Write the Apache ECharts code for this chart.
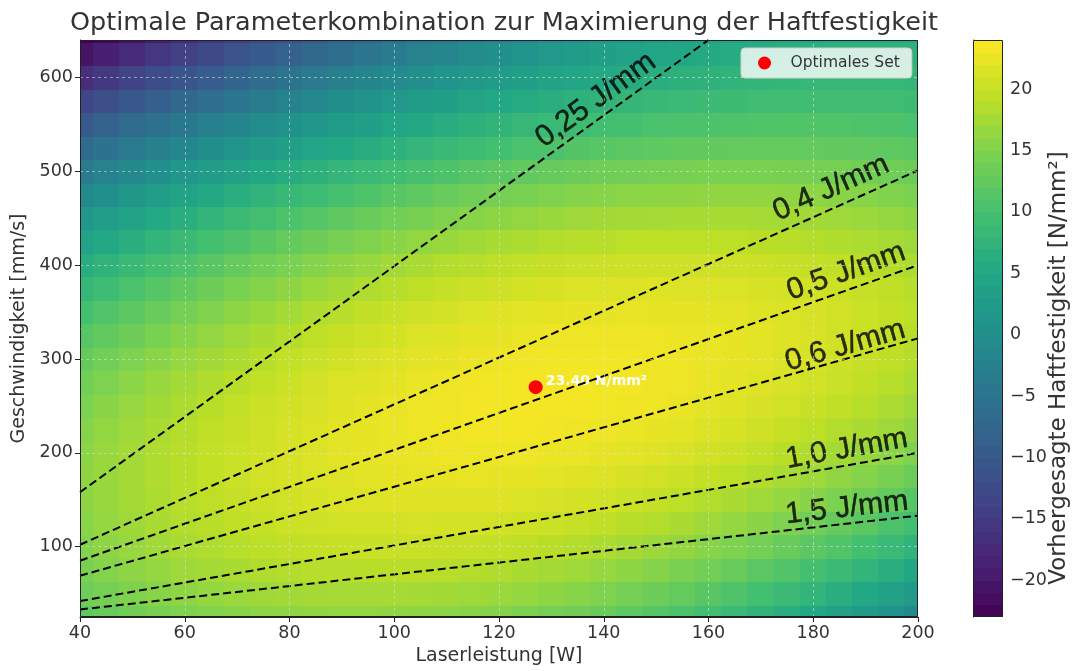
<!DOCTYPE html>
<html><head><meta charset="utf-8">
<script src="https://cdn.jsdelivr.net/npm/echarts@6/dist/echarts.min.js"></script>
<style>html,body{margin:0;padding:0;background:#fff}#c{width:1075px;height:671px}</style>
</head><body><div id="c"></div>
<script>
// ---------------- data ----------------
const powers = [40,45,50,55,60,65,70,75,80,85,90,95,100,105,110,115,120,125,130,135,140,145,150,155,160,165,170,175,180,185,190,195,200];
const speeds = [25,50,75,100,125,150,175,200,225,250,275,300,325,350,375,400,425,450,475,500,525,550,575,600,625,650];
const strength = [
 [12.3,13.0,13.7,14.3,14.8,15.2,15.6,15.9,16.1,16.2,16.3,16.3,16.2,16.1,15.8,15.5,15.2,14.7,14.2,13.6,13.0,12.2,11.4,10.5,9.6,8.6,7.5,6.3,5.1,3.7,2.4,0.9,-0.6],
 [13.5,14.2,14.9,15.5,16.0,16.5,16.9,17.2,17.4,17.6,17.7,17.7,17.7,17.6,17.4,17.2,16.9,16.5,16.0,15.5,14.9,14.2,13.5,12.7,11.8,10.9,9.8,8.8,7.6,6.4,5.1,3.7,2.3],
 [14.4,15.2,15.9,16.5,17.1,17.5,18.0,18.3,18.6,18.8,18.9,19.0,19.0,19.0,18.8,18.6,18.4,18.0,17.6,17.2,16.6,16.0,15.4,14.6,13.8,13.0,12.0,11.0,9.9,8.8,7.6,6.3,4.9],
 [15.2,15.9,16.6,17.3,17.9,18.4,18.8,19.2,19.5,19.8,20.0,20.1,20.1,20.1,20.0,19.9,19.7,19.4,19.1,18.7,18.2,17.6,17.0,16.4,15.6,14.8,14.0,13.0,12.0,11.0,9.8,8.6,7.4],
 [15.7,16.5,17.2,17.9,18.5,19.0,19.5,19.9,20.3,20.6,20.8,20.9,21.0,21.1,21.0,20.9,20.8,20.6,20.3,19.9,19.5,19.0,18.5,17.9,17.2,16.5,15.7,14.8,13.9,12.9,11.9,10.8,9.6],
 [15.9,16.7,17.5,18.2,18.9,19.4,19.9,20.4,20.8,21.1,21.4,21.6,21.7,21.8,21.8,21.8,21.7,21.5,21.3,21.0,20.7,20.2,19.8,19.2,18.6,18.0,17.2,16.5,15.6,14.7,13.7,12.7,11.6],
 [16.0,16.8,17.6,18.3,19.0,19.6,20.2,20.7,21.1,21.5,21.8,22.1,22.2,22.4,22.4,22.5,22.4,22.3,22.1,21.9,21.6,21.2,20.8,20.3,19.8,19.2,18.6,17.8,17.1,16.2,15.3,14.4,13.3],
 [15.8,16.7,17.5,18.3,19.0,19.6,20.2,20.8,21.2,21.6,22.0,22.3,22.5,22.7,22.8,22.9,22.9,22.8,22.7,22.6,22.3,22.0,21.7,21.3,20.8,20.3,19.7,19.0,18.3,17.5,16.7,15.8,14.9],
 [15.3,16.3,17.1,17.9,18.7,19.4,20.0,20.6,21.1,21.6,22.0,22.4,22.6,22.9,23.0,23.2,23.2,23.2,23.1,23.0,22.8,22.6,22.3,22.0,21.6,21.1,20.6,20.0,19.3,18.6,17.9,17.1,16.2],
 [14.7,15.7,16.6,17.4,18.2,19.0,19.6,20.3,20.8,21.3,21.8,22.2,22.5,22.8,23.0,23.2,23.3,23.4,23.4,23.3,23.2,23.0,22.8,22.5,22.1,21.7,21.2,20.7,20.1,19.5,18.8,18.1,17.2],
 [13.8,14.8,15.8,16.7,17.5,18.3,19.0,19.7,20.3,20.9,21.4,21.8,22.2,22.6,22.8,23.1,23.2,23.3,23.4,23.4,23.3,23.2,23.0,22.8,22.5,22.1,21.7,21.3,20.7,20.2,19.5,18.8,18.1],
 [12.7,13.8,14.8,15.7,16.6,17.4,18.2,18.9,19.6,20.2,20.8,21.3,21.7,22.1,22.4,22.7,22.9,23.1,23.2,23.2,23.2,23.2,23.0,22.9,22.6,22.3,22.0,21.6,21.1,20.6,20.0,19.4,18.7],
 [11.4,12.5,13.5,14.5,15.5,16.4,17.2,18.0,18.7,19.4,20.0,20.5,21.0,21.4,21.8,22.2,22.4,22.6,22.8,22.9,22.9,22.9,22.9,22.7,22.6,22.3,22.0,21.7,21.3,20.8,20.3,19.7,19.1],
 [9.8,11.0,12.1,13.1,14.1,15.1,15.9,16.8,17.5,18.3,18.9,19.5,20.1,20.6,21.0,21.4,21.7,22.0,22.2,22.3,22.4,22.5,22.4,22.4,22.2,22.0,21.8,21.5,21.2,20.7,20.3,19.8,19.2],
 [8.0,9.2,10.4,11.5,12.5,13.5,14.5,15.3,16.1,16.9,17.6,18.3,18.8,19.4,19.9,20.3,20.6,21.0,21.2,21.4,21.6,21.6,21.7,21.6,21.6,21.4,21.2,21.0,20.7,20.3,19.9,19.4,18.9],
 [6.1,7.3,8.5,9.7,10.7,11.8,12.7,13.7,14.5,15.3,16.1,16.7,17.4,17.9,18.5,18.9,19.3,19.7,20.0,20.2,20.4,20.5,20.6,20.6,20.6,20.5,20.3,20.1,19.8,19.5,19.1,18.7,18.2],
 [3.9,5.2,6.4,7.6,8.7,9.8,10.8,11.8,12.7,13.5,14.3,15.0,15.7,16.3,16.8,17.3,17.8,18.2,18.5,18.8,19.0,19.2,19.3,19.3,19.3,19.3,19.1,19.0,18.7,18.4,18.1,17.7,17.2],
 [1.6,2.9,4.2,5.4,6.5,7.6,8.7,9.7,10.6,11.5,12.3,13.0,13.8,14.4,15.0,15.5,16.0,16.4,16.8,17.1,17.4,17.6,17.7,17.8,17.8,17.8,17.7,17.6,17.4,17.2,16.9,16.5,16.1],
 [-1.0,0.4,1.7,2.9,4.1,5.3,6.3,7.4,8.3,9.2,10.1,10.9,11.7,12.3,13.0,13.6,14.1,14.5,14.9,15.3,15.6,15.8,16.0,16.1,16.2,16.2,16.2,16.1,15.9,15.7,15.5,15.1,14.7],
 [-3.8,-2.4,-1.0,0.3,1.5,2.7,3.8,4.9,5.9,6.9,7.8,8.6,9.4,10.1,10.8,11.4,12.0,12.5,12.9,13.3,13.7,13.9,14.2,14.3,14.5,14.5,14.5,14.4,14.3,14.2,13.9,13.7,13.3],
 [-6.7,-5.3,-3.9,-2.5,-1.3,0.0,1.1,2.3,3.3,4.3,5.3,6.2,7.0,7.8,8.5,9.2,9.8,10.3,10.8,11.3,11.6,12.0,12.2,12.5,12.6,12.7,12.8,12.8,12.7,12.6,12.4,12.2,11.9],
 [-9.9,-8.4,-6.9,-5.5,-4.2,-2.9,-1.7,-0.5,0.6,1.7,2.7,3.6,4.5,5.3,6.1,6.8,7.5,8.1,8.6,9.1,9.6,9.9,10.3,10.5,10.8,10.9,11.0,11.1,11.0,11.0,10.9,10.7,10.4],
 [-13.3,-11.7,-10.2,-8.7,-7.3,-6.0,-4.7,-3.4,-2.3,-1.1,-0.1,0.9,1.9,2.8,3.6,4.4,5.1,5.8,6.4,7.0,7.5,7.9,8.3,8.6,8.9,9.1,9.3,9.4,9.5,9.5,9.4,9.3,9.1],
 [-16.8,-15.2,-13.6,-12.0,-10.6,-9.2,-7.8,-6.5,-5.2,-4.0,-2.9,-1.8,-0.8,0.2,1.1,2.0,2.8,3.5,4.2,4.8,5.4,5.9,6.4,6.8,7.1,7.4,7.7,7.9,8.0,8.1,8.1,8.0,7.9],
 [-20.6,-18.8,-17.2,-15.5,-14.0,-12.5,-11.0,-9.6,-8.3,-7.0,-5.8,-4.6,-3.5,-2.4,-1.4,-0.5,0.4,1.2,2.0,2.7,3.4,4.0,4.6,5.0,5.5,5.9,6.2,6.5,6.7,6.8,6.9,7.0,7.0],
 [-24.5,-22.7,-21.0,-19.3,-17.6,-16.0,-14.5,-13.0,-11.6,-10.2,-8.9,-7.7,-6.5,-5.3,-4.3,-3.2,-2.3,-1.4,-0.5,0.3,1.1,1.7,2.4,3.0,3.5,3.9,4.3,4.7,5.0,5.2,5.4,5.5,5.6]
];
// constant line-energy lines (start and end points)
const energyNames = ['0,25 J/mm','0,4 J/mm','0,5 J/mm','0,6 J/mm','1,0 J/mm','1,5 J/mm'];
const energyStart = [[40,158],[40,102],[40,85],[40,69],[40,42],[40,33]];
const energyEnd   = [[160,640],[200,501],[200,400],[200,322],[200,200],[200,133]];
// optimum
const optimumPoint = [127, 270];
const optimumValue = 23.40;
// axes / colour bar scales
const xTicks = [40,60,80,100,120,140,160,180,200];
const yTicks = [100,200,300,400,500,600];
const cbTicks = [-20,-15,-10,-5,0,5,10,15,20];
const cbLevels = [-23,-22,-21,-20,-19,-18,-17,-16,-15,-14,-13,-12,-11,-10,-9,-8,-7,-6,-5,-4,-3,-2,-1,0,1,2,3,4,5,6,7,8,9,10,11,12,13,14,15,16,17,18,19,20,21,22,23,24];

// ---------------- layout / style ----------------
const labelAnchors = [[138.5,576],[183.4,482],[186.3,393],[186.1,314],[186.4,204],[186.4,141]];
const labelAngles = [36,24,19.5,16,10,6.5];
const viridis = ['#440154','#482475','#414487','#355f8d','#2a788e','#21918c','#22a884','#44bf70','#7ad151','#bddf26','#fde725'];
const FONT = 'DejaVu Sans';
const PLOT = {left:80, top:40, width:838, height:577};
const CB = {left:973, top:40, width:30, height:577};

const heatData = [];
speeds.forEach((v, r) => powers.forEach((p, c) => heatData.push([p, v, strength[r][c]])));
const cbData = [];
for (let i = 0; i < cbLevels.length - 1; i++) cbData.push([cbLevels[i], cbLevels[i+1], (cbLevels[i] + cbLevels[i+1]) / 2]);
const halfP = (powers[1] - powers[0]) / 2, halfV = (speeds[1] - speeds[0]) / 2;

function clipRect(a, b, cs) {
  const x0 = Math.max(Math.floor(Math.min(a[0], b[0])), cs.x);
  const x1 = Math.min(Math.ceil(Math.max(a[0], b[0])), cs.x + cs.width);
  const y0 = Math.max(Math.floor(Math.min(a[1], b[1])), cs.y);
  const y1 = Math.min(Math.ceil(Math.max(a[1], b[1])), cs.y + cs.height);
  if (x1 <= x0 || y1 <= y0) return null;
  return {x:x0, y:y0, width:x1-x0, height:y1-y0};
}

const tickText = {fontFamily: FONT, fontSize: 17.5, color: '#333'};
const nameText = {fontFamily: FONT, fontSize: 19, color: '#333'};
const series = [];
series.push({
  type: 'custom', name: 'surface', xAxisIndex: 0, yAxisIndex: 0, z: 1, silent: true,
  data: heatData, encode: {x: 0, y: 1},
  renderItem: function (params, api) {
    const P = api.value(0), v = api.value(1);
    const shape = clipRect(api.coord([P - halfP, v + halfV]), api.coord([P + halfP, v - halfV]), params.coordSys);
    if (!shape) return null;
    return {type: 'rect', shape: shape, style: {fill: api.visual('color')}};
  }
});
series.push({
  type: 'custom', name: 'colorbar', xAxisIndex: 1, yAxisIndex: 1, z: 1, silent: true,
  data: cbData, encode: {y: [0, 1]},
  renderItem: function (params, api) {
    const shape = clipRect(api.coord([0, api.value(1)]), api.coord([1, api.value(0)]), params.coordSys);
    if (!shape) return null;
    return {type: 'rect', shape: shape, style: {fill: api.visual('color')}};
  }
});
// grid lines
series.push({
  type: 'line', name: 'grid', xAxisIndex: 0, yAxisIndex: 0, z: 2, silent: true,
  data: [], showSymbol: false,
  markLine: {
    silent: true, symbol: ['none', 'none'], label: {show: false}, animation: false,
    lineStyle: {color: 'rgba(225,225,225,0.55)', type: [3, 3], width: 1},
    data: xTicks.slice(1, -1).map(x => ({xAxis: x})).concat(yTicks.map(y => ({yAxis: y})))
  }
});
// optimum
series.push({
  type: 'scatter', name: 'Optimales Set', xAxisIndex: 0, yAxisIndex: 0, z: 2,
  data: [optimumPoint], symbol: 'circle', symbolSize: 14,
  itemStyle: {color: '#ff0000', opacity: 1},
  label: {show: true, position: 'right', distance: 3, offset: [0, -6],
    formatter: optimumValue.toFixed(2) + ' N/mm²',
    color: '#ffffff', fontWeight: 'bold', fontSize: 14, fontFamily: FONT}
});
// energy lines + labels
energyNames.forEach((nm, i) => {
  series.push({
    type: 'line', name: nm, xAxisIndex: 0, yAxisIndex: 0, z: 3, silent: true, clip: true,
    data: [energyStart[i], energyEnd[i]], showSymbol: false, symbol: 'none',
    lineStyle: {color: '#000', width: 2, type: [8, 4]}
  });
  series.push({
    type: 'scatter', name: nm + ' label', xAxisIndex: 0, yAxisIndex: 0, z: 4, silent: true,
    data: [labelAnchors[i]], symbolSize: 0,
    label: {show: true, position: 'inside', formatter: nm, rotate: labelAngles[i],
      fontFamily: 'Liberation Sans', fontSize: 30, color: '#000',
      textBorderColor: '#000', textBorderWidth: 0.5}
  });
});

const option = {
  animation: false,
  backgroundColor: '#fff',
  title: {text: 'Optimale Parameterkombination zur Maximierung der Haftfestigkeit',
    left: PLOT.left + PLOT.width / 2, top: 5, textAlign: 'center',
    textStyle: {fontFamily: FONT, fontSize: 25.5, fontWeight: 'normal', color: '#333'}},
  legend: {data: [{name: 'Optimales Set', icon: 'circle', itemStyle: {color: '#ff0000', opacity: 1}}], left: 741, top: 48,
    itemWidth: 42, itemHeight: 13, padding: [7, 12, 7, 17],
    backgroundColor: 'rgba(255,255,255,0.8)', borderColor: '#d0d0d0', borderWidth: 1, borderRadius: 4,
    selectedMode: false, textStyle: {fontFamily: FONT, fontSize: 15.5, color: '#333'}},
  visualMap: {type: 'continuous', show: false, min: cbLevels[0], max: cbLevels[cbLevels.length - 1],
    dimension: 2, seriesIndex: [0, 1], inRange: {color: viridis}},
  grid: [
    {left: PLOT.left, top: PLOT.top, width: PLOT.width, height: PLOT.height},
    {left: CB.left, top: CB.top, width: CB.width, height: CB.height}
  ],
  xAxis: [
    {type: 'value', gridIndex: 0, min: 40, max: 200, interval: 20,
      axisLine: {show: true, lineStyle: {color: '#222'}},
      axisTick: {show: true, inside: false, length: 5, lineStyle: {color: '#222'}},
      axisLabel: Object.assign({margin: 7}, tickText),
      splitLine: {show: false},
      name: 'Laserleistung [W]', nameLocation: 'middle', nameGap: 30, nameTextStyle: nameText},
    {type: 'value', gridIndex: 1, min: 0, max: 1, show: false}
  ],
  yAxis: [
    {type: 'value', gridIndex: 0, min: 25, max: 640,
      axisLine: {show: true, lineStyle: {color: '#222'}},
      axisTick: {show: true, inside: false, length: 5, lineStyle: {color: '#222'}, customValues: yTicks},
      axisLabel: Object.assign({margin: 7, customValues: yTicks}, tickText),
      splitLine: {show: false},
      name: 'Geschwindigkeit [mm/s]', nameLocation: 'middle', nameGap: 49, nameRotate: 90, nameTextStyle: nameText},
    {type: 'value', gridIndex: 1, min: cbLevels[0], max: cbLevels[cbLevels.length - 1], position: 'right',
      axisLine: {show: true, lineStyle: {color: '#222'}},
      axisTick: {show: true, inside: false, length: 5, lineStyle: {color: '#222'}, customValues: cbTicks},
      axisLabel: Object.assign({margin: 7, customValues: cbTicks,
        formatter: v => String(v).replace('-', '\u2212')}, tickText),
      splitLine: {show: false}}
  ],
  graphic: [
    {type: 'rect', z: 100, silent: true, shape: {x: PLOT.left + 0.5, y: PLOT.top + 0.5, width: PLOT.width - 1, height: PLOT.height - 1},
      style: {fill: null, stroke: '#222', lineWidth: 1}},
    {type: 'rect', z: 100, silent: true, shape: {x: CB.left + 0.5, y: CB.top + 0.5, width: CB.width - 1, height: CB.height - 1},
      style: {fill: null, stroke: '#222', lineWidth: 1}},
    {type: 'text', z: 100, silent: true, x: 1059, y: 368, rotation: Math.PI / 2,
      style: {text: 'Vorhergesagte Haftfestigkeit [N/mm²]', fontFamily: FONT, fontSize: 23, fill: '#333',
        align: 'center', verticalAlign: 'middle'}}
  ],
  series: series
};
const chart = echarts.init(document.getElementById('c'), null, {renderer: 'canvas'});
chart.setOption(option);
</script></body></html>
